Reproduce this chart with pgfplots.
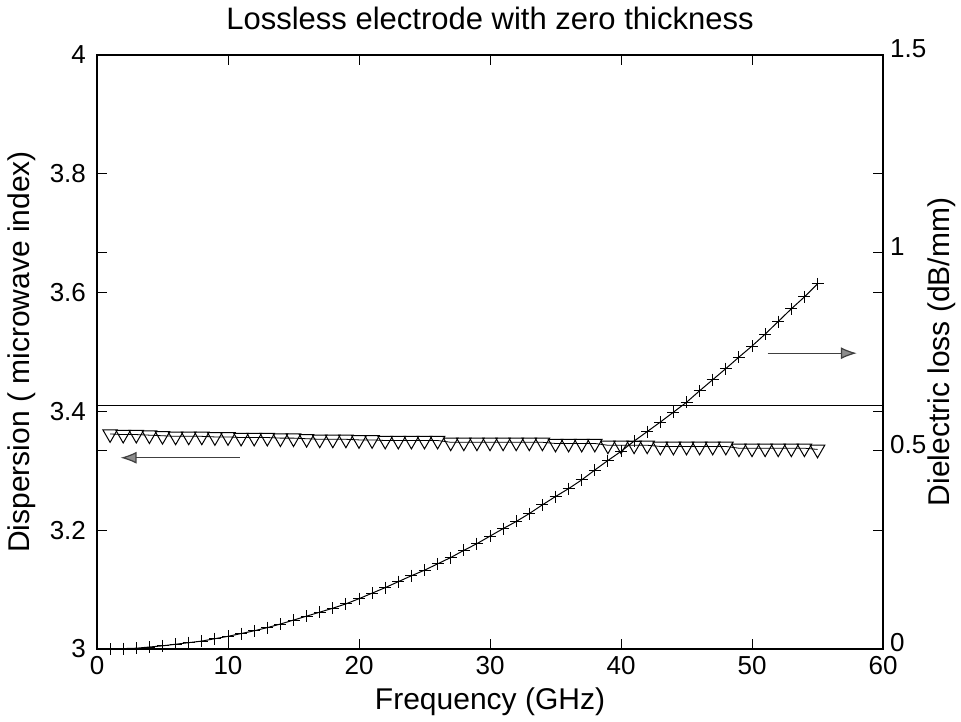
\documentclass[border=0pt]{standalone}
\usepackage{fontspec}
\setmainfont{Liberation Sans}
\usepackage{pgfplots}
\pgfplotsset{compat=1.18}
\usetikzlibrary{arrows.meta}
\begin{document}
\begin{tikzpicture}[x=1pt,y=1pt]
\pgfplotsset{
 every axis/.append style={
  width=393pt, height=297pt, scale only axis,
  at={(0,0)}, anchor=south west,
  xmin=0, xmax=60, xtick={0,10,20,30,40,50,60},
  tick align=inside, major tick length=5pt,
  tick label style={font=\fontsize{13}{15}\selectfont},
  /pgf/number format/assume math mode=true,
  label style={font=\fontsize{15}{18}\selectfont},
  axis line style={line width=0.6pt},
  tick style={line width=0.5pt, black},
 }
}
\begin{axis}[
  ymin=3, ymax=4, ytick={3,3.2,3.4,3.6,3.8,4},
  yticklabels={3,3.2,3.4,3.6,3.8,4},
  yticklabel style={xshift=-2pt},
  xlabel={Frequency (GHz)},
  ylabel={Dispersion ( microwave index)},
  ylabel shift=0pt,
  title={Lossless electrode with zero thickness},
  title style={font=\fontsize{15.5}{18}\selectfont, yshift=3pt},
]
\addplot[black, line width=0.5pt] coordinates {(0,3.41) (60,3.41)};
\addplot[black, line width=0.4pt, mark=triangle, mark size=4.2pt,
  every mark/.append style={rotate=180, solid, line width=0.5pt}] coordinates {
(1,3.362) (2,3.361) (3,3.361) (4,3.360) (5,3.359) (6,3.358) (7,3.358) (8,3.358)
(9,3.357) (10,3.357) (11,3.356) (12,3.356) (13,3.356) (14,3.355) (15,3.355)
(16,3.354) (17,3.353) (18,3.353) (19,3.353) (20,3.352) (21,3.352) (22,3.351)
(23,3.351) (24,3.351) (25,3.351) (26,3.351) (27,3.348) (28,3.348) (29,3.348)
(30,3.348) (31,3.348) (32,3.348) (33,3.348) (34,3.348) (35,3.346) (36,3.346)
(37,3.346) (38,3.346) (39,3.343) (40,3.343) (41,3.343) (42,3.343) (43,3.341)
(44,3.341) (45,3.341) (46,3.341) (47,3.341) (48,3.341) (49,3.338) (50,3.338)
(51,3.338) (52,3.338) (53,3.338) (54,3.338) (55,3.336)
};
\draw[black!75, line width=0.6pt, -{Latex[length=8pt,width=6pt,fill=black!45]}]
  (axis cs:10.9,3.322) -- (axis cs:1.8,3.322);
\draw[black!75, line width=0.6pt, -{Latex[length=8pt,width=6pt,fill=black!45]}]
  (axis cs:51.2,3.498) -- (axis cs:58.0,3.498);
\end{axis}
\begin{axis}[
  ymin=0, ymax=1.5, ytick={0,0.5,1,1.5},
  yticklabels={0,0.5,1,1.5},
  yticklabel pos=right,
  yticklabel style={yshift=3pt},
  axis x line=none,
  ylabel={Dielectric loss (dB/mm)},
  ylabel shift=-6pt,
]
\addplot[black, line width=0.5pt, mark=+, mark size=3pt,
  every mark/.append style={solid, line width=0.45pt}] coordinates {
(1,0.000) (2,0.001) (3,0.002) (4,0.005) (5,0.008) (6,0.012) (7,0.016) (8,0.020)
(9,0.026) (10,0.032) (11,0.039) (12,0.046) (13,0.054) (14,0.063) (15,0.073)
(16,0.083) (17,0.093) (18,0.103) (19,0.114) (20,0.127) (21,0.141) (22,0.155)
(23,0.170) (24,0.185) (25,0.199) (26,0.215) (27,0.231) (28,0.249) (29,0.266)
(30,0.285) (31,0.304) (32,0.322) (33,0.342) (34,0.364) (35,0.385) (36,0.405)
(37,0.427) (38,0.452) (39,0.476) (40,0.499) (41,0.525) (42,0.549) (43,0.573)
(44,0.598) (45,0.623) (46,0.652) (47,0.680) (48,0.708) (49,0.737) (50,0.765)
(51,0.795) (52,0.827) (53,0.859) (54,0.889) (55,0.922)
};
\end{axis}
\pgfresetboundingbox
\path (-48.5,-36) rectangle (432,324.5);
\end{tikzpicture}
\end{document}
